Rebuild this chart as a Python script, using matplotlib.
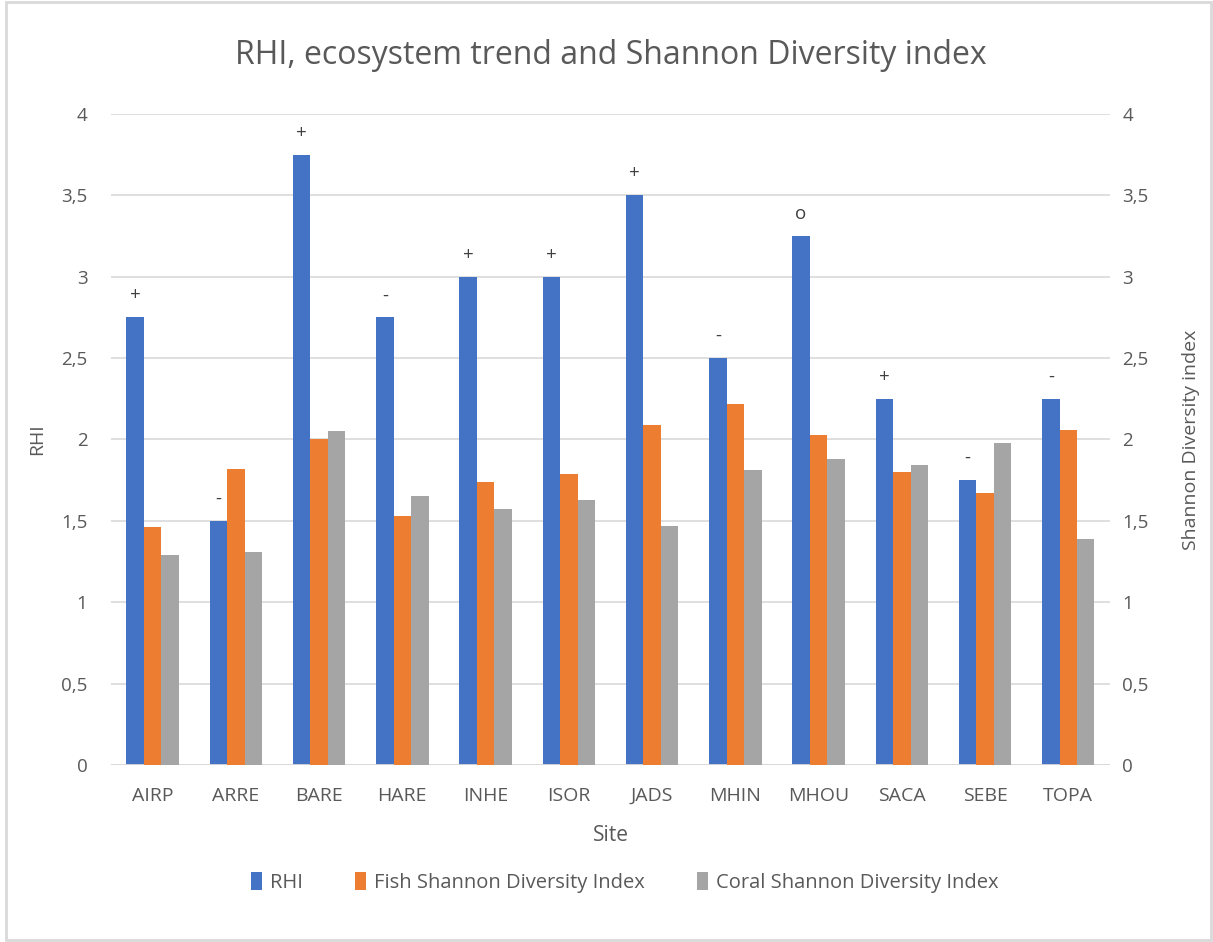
import numpy as np
import matplotlib.pyplot as plt
from matplotlib.patches import Rectangle
from matplotlib.ticker import FuncFormatter, MultipleLocator

plt.rcParams['font.family'] = ['Open Sans', 'DejaVu Sans']

sites = ['AIRP', 'ARRE', 'BARE', 'HARE', 'INHE', 'ISOR', 'JADS', 'MHIN', 'MHOU', 'SACA', 'SEBE', 'TOPA']
rhi = [2.75, 1.5, 3.75, 2.75, 3.0, 3.0, 3.5, 2.5, 3.25, 2.25, 1.75, 2.25]
fish_sdi = [1.46, 1.82, 2.00, 1.53, 1.74, 1.79, 2.09, 2.22, 2.03, 1.80, 1.67, 2.06]
coral_sdi = [1.29, 1.31, 2.05, 1.65, 1.57, 1.63, 1.47, 1.81, 1.88, 1.84, 1.98, 1.39]
trend = ['+', '-', '+', '-', '+', '+', '+', '-', 'o', '+', '-', '-']

blue, orange, grey = '#4472C4', '#ED7D31', '#A5A5A5'
txt = '#595959'
gridc = '#d9d9d9'

fig = plt.figure(figsize=(12.13, 9.42), dpi=100)
ax = fig.add_axes([0.0915, 0.188, 0.8235, 0.691])
ax2 = ax.twinx()

x = np.arange(len(sites))
w = 0.21
ax.bar(x - w, rhi, w, color=blue, label='RHI', zorder=3)
ax2.bar(x, fish_sdi, w, color=orange, label='Fish Shannon Diversity Index', zorder=3)
ax2.bar(x + w, coral_sdi, w, color=grey, label='Coral Shannon Diversity Index', zorder=3)

# ecosystem trend symbols above the RHI bars
for xi, v, t in zip(x, rhi, trend):
    ax.text(xi - w, v + 0.08, t, ha='center', va='bottom', fontsize=13.5, color='#404040')

fmt = FuncFormatter(lambda v, p: f'{v:g}'.replace('.', ','))
for a in (ax, ax2):
    a.set_ylim(0, 4)
    a.yaxis.set_major_locator(MultipleLocator(0.5))
    a.yaxis.set_major_formatter(fmt)
    a.tick_params(length=0, labelsize=13.5, labelcolor=txt)
    for s in a.spines.values():
        s.set_visible(False)
ax.set_xlim(-0.5, len(sites) - 0.5)
ax.tick_params(axis='y', pad=17)
ax2.tick_params(axis='y', pad=9)
ax.tick_params(axis='x', pad=16, labelsize=14)
ax.set_xticks(x)
ax.set_xticklabels(sites)
ax.grid(axis='y', color=gridc, linewidth=1.2, zorder=0)
ax.axhline(0, color=gridc, linewidth=2, zorder=4)

ax.set_ylabel('RHI', fontsize=14, color=txt, labelpad=11)
ax2.set_ylabel('Shannon Diversity index', fontsize=14, color=txt, labelpad=24)
ax.set_xlabel('Site', fontsize=15, color=txt, labelpad=14)
ax.set_title('RHI, ecosystem trend and Shannon Diversity index', fontsize=23, color=txt, pad=36)

h1, l1 = ax.get_legend_handles_labels()
h2, l2 = ax2.get_legend_handles_labels()
fig.legend(h1 + h2, l1 + l2, loc='center', bbox_to_anchor=(0.515, 0.063), ncol=3, frameon=False,
           fontsize=14.5, labelcolor=txt, handlelength=0.55, handleheight=1.0, handletextpad=0.4,
           columnspacing=2.6)

fig.patches.append(Rectangle((0.005, 0.002), 0.993, 0.996, transform=fig.transFigure,
                             fill=False, edgecolor=gridc, linewidth=2))

fig.savefig('out.png', dpi=100)
